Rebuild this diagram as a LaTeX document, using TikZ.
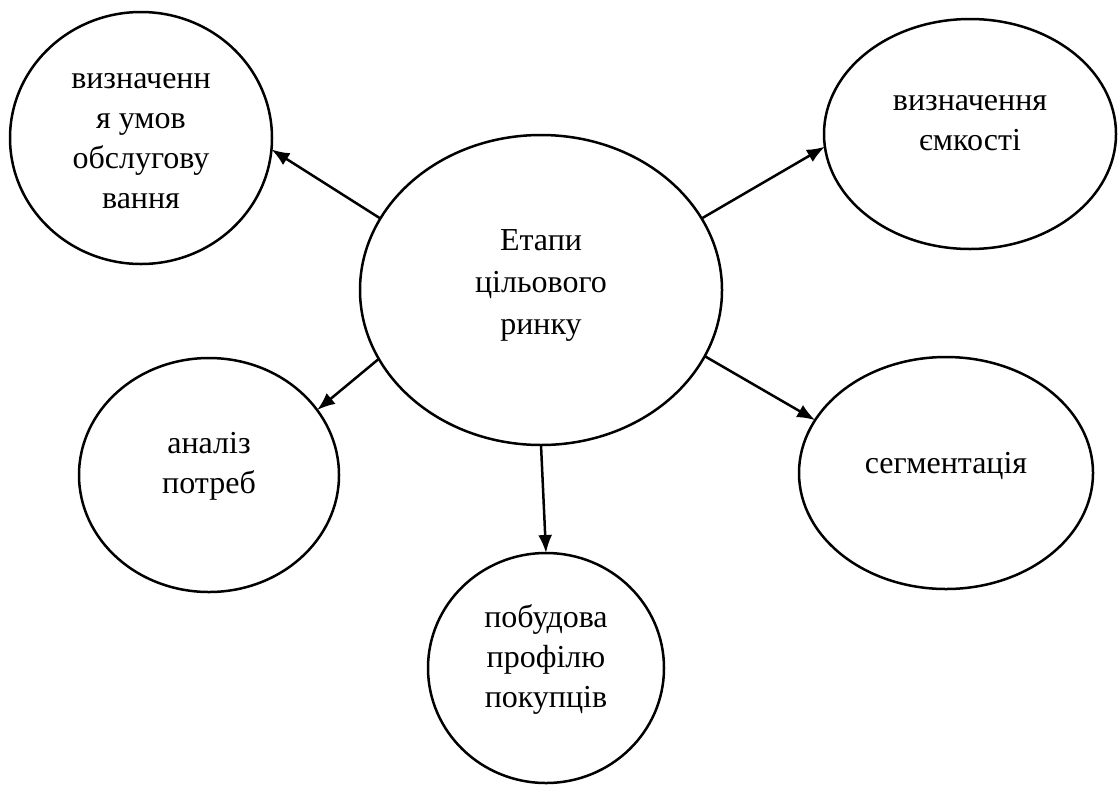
\documentclass[tikz,border=0pt]{standalone}
\usepackage{fontspec}
\setmainfont{Liberation Serif}
\usetikzlibrary{arrows.meta,shapes.geometric}
\tikzset{
  oval/.style={draw=black, line width=2.5pt, ellipse, inner sep=0pt, outer sep=0pt},
  txt/.style={align=center, inner sep=0pt, anchor=base, font=\fontsize{32}{40}\selectfont},
  arr/.style={line width=2.5pt, -{Latex[length=18pt,width=14pt]}}
}
\begin{document}
\begin{tikzpicture}[x=1pt,y=-1pt]
\useasboundingbox (0,0) rectangle (1118,785);
\node[oval, minimum width=362pt, minimum height=310pt] (c)  at (541,290) {};
\node[oval, minimum width=262pt, minimum height=252pt] (tl) at (141,138) {};
\node[oval, minimum width=292pt, minimum height=230pt] (tr) at (970,134) {};
\node[oval, minimum width=260pt, minimum height=234pt] (bl) at (209,475) {};
\node[oval, minimum width=294pt, minimum height=232pt] (br) at (946,473) {};
\node[oval, minimum width=236pt, minimum height=230pt] (b)  at (546,668) {};

\node[txt, font=\fontsize{32}{42}\selectfont] (tc) at (541,334) {Етапи\\цільового\\ринку};
\node[txt] (ttl) at (141,208) {визначенн\\я умов\\обслугову\\вання};
\node[txt] (ttr) at (970,150) {визначення\\ємкості};
\node[txt] (tbl) at (209,493) {аналіз\\потреб};
\node[txt] (tbr) at (946,473) {сегментація};
\node[txt] (tb)  at (546,707) {побудова\\профілю\\покупців};

\draw[arr] (c.156.8) -- (tl.-5.2);
\draw[arr] (c.24.5) -- (tr.185.1);
\draw[arr] (c.203.4) -- (bl.31.5);
\draw[arr] (c.-22.2) -- (br.158.7);
\draw[arr] (c.270) -- (b.90);
\end{tikzpicture}
\end{document}
